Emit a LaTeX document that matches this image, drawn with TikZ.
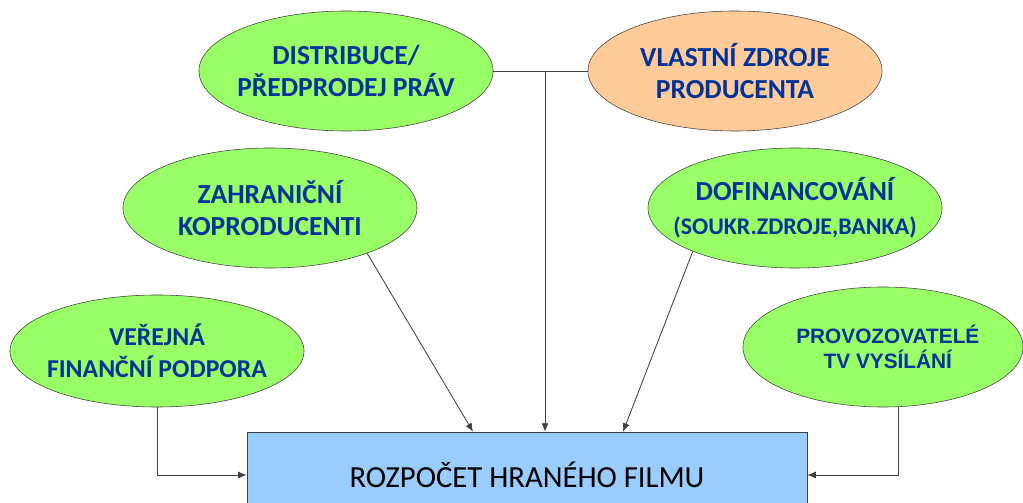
\documentclass[tikz,border=0pt]{standalone}
\usepackage{fontspec}
\setmainfont{Carlito}
\newfontfamily\arialfont{Liberation Sans}
\usepackage{tikz}
\usetikzlibrary{shapes.geometric,arrows.meta}
\definecolor{zelena}{RGB}{153,255,102}
\definecolor{oranz}{RGB}{255,204,153}
\definecolor{modra}{RGB}{153,204,255}
\definecolor{pismo}{RGB}{0,51,153}
\definecolor{obrys}{RGB}{64,64,64}

\begin{document}
\begin{tikzpicture}[x=0.025cm,y=-0.025cm,
  zdroj/.style={ellipse,draw=obrys,fill=zelena,inner sep=0pt,minimum width=7.35cm,minimum height=3cm,
    label={[align=center,text=pismo,font=\fontsize{19.6}{23}\selectfont\bfseries]center:#1}},
  tvzdroj/.style={ellipse,draw=obrys,fill=zelena,inner sep=0pt,minimum width=7cm,minimum height=3cm,
    label={[align=center,text=pismo,xshift=0.12cm,font=\fontsize{14.8}{17.5}\selectfont\arialfont\bfseries]center:#1}},
  rozpocet/.style={rectangle,draw=obrys,fill=modra,minimum width=14cm,minimum height=2.15cm,font=\fontsize{21.8}{26}\selectfont},
  spojka/.style={draw=obrys,line width=0.6pt},
  sipka/.style={spojka,-{Latex[length=6pt,width=5pt]}}]
\useasboundingbox (0,0) rectangle (1023,503);
\clip (0,0) rectangle (1023,503);
\node[zdroj={DISTRIBUCE/\\PŘEDPRODEJ PRÁV}] (distribuce) at (346,71) {};
\node[zdroj={VLASTNÍ ZDROJE\\PRODUCENTA},fill=oranz] (vlastni) at (735,71) {};
\node[zdroj={ZAHRANIČNÍ\\KOPRODUCENTI}] (zahranicni) at (270,208) {};
\node[zdroj={DOFINANCOVÁNÍ\\[1pt]{\fontsize{17}{20}\selectfont(SOUKR.ZDROJE,BANKA)}}] (dofinanc) at (795,208) {};
\node[zdroj={{\fontsize{18.3}{22}\selectfont VEŘEJNÁ}\\{\fontsize{18.3}{22}\selectfont FINANČNÍ PODPORA}},minimum height=2.8cm] (verejna) at (157,351) {};
\node[tvzdroj={PROVOZOVATELÉ\\TV VYSÍLÁNÍ}] (provoz) at (883,347) {};
\node[rozpocet] (film) at (527,475) {ROZPOČET HRANÉHO FILMU};
\draw[spojka] (distribuce.east) -- (vlastni.west);
\coordinate (spoj) at (545,71);
\draw[sipka] (spoj) -- (spoj |- film.north);
\draw[sipka] (zahranicni.-25) -- ([xshift=-1.35cm]film.north);
\draw[sipka] (dofinanc.-157) -- ([xshift=2.4cm]film.north);
\draw[sipka] (verejna.south) |- (film.west);
\draw[sipka] ([xshift=0.375cm]provoz.south) |- (film.east);
\end{tikzpicture}
\end{document}
